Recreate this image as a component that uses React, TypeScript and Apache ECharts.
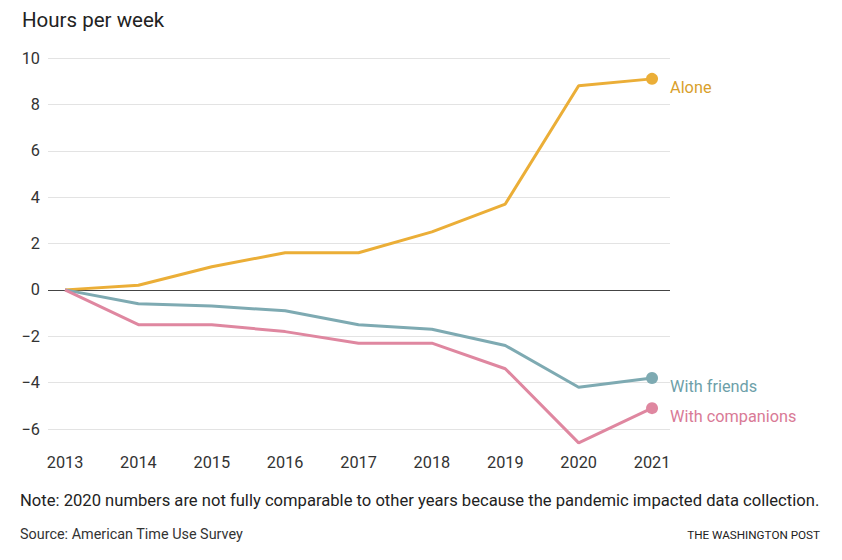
import React, { useEffect, useRef } from "react";
import * as echarts from "echarts";

const years = [2013, 2014, 2015, 2016, 2017, 2018, 2019, 2020, 2021];
const alone = [0, 0.2, 1.0, 1.6, 1.6, 2.5, 3.7, 8.8, 9.1];
const withFriends = [0, -0.6, -0.7, -0.9, -1.5, -1.7, -2.4, -4.2, -3.8];
const withCompanions = [0, -1.5, -1.5, -1.8, -2.3, -2.3, -3.4, -6.6, -5.1];

const FONT = "Roboto, 'Liberation Sans', sans-serif";

function makeSeries(name: string, values: number[], color: string, labelColor: string, withZero = false) {
  const data = values.map((v, i) => {
    const isLast = i === values.length - 1;
    return isLast
      ? { value: [years[i], v], symbol: "circle", symbolSize: 12 }
      : { value: [years[i], v], symbol: "none" };
  });
  const s: any = {
    name,
    type: "line",
    data,
    clip: false,
    showSymbol: true,
    itemStyle: { color },
    lineStyle: { color, width: 3 },
    endLabel: {
      show: true,
      formatter: name,
      color: labelColor,
      fontFamily: FONT,
      fontSize: 16.3,
      distance: 5,
      offset: [13, 8.5],
    },
    z: 3,
  };
  if (withZero) {
    s.markLine = {
      silent: true,
      symbol: "none",
      label: { show: false },
      lineStyle: { color: "#444", width: 1, type: "solid" },
      data: [{ yAxis: 0 }],
      z: 1,
    };
  }
  return s;
}

export default function App() {
  const ref = useRef<HTMLDivElement>(null);
  useEffect(() => {
    if (!ref.current) return;
    const chart = echarts.init(ref.current, undefined, { renderer: "svg" });
    const option: any = {
      animation: false,
      backgroundColor: "#ffffff",
      grid: { left: 48, right: 172, top: 58, bottom: 131, containLabel: false },
      xAxis: {
        type: "value",
        min: 2012.768,
        max: 2021.245,
        axisLine: { show: false },
        axisTick: { show: false },
        splitLine: { show: false },
        axisLabel: {
          customValues: years,
          formatter: (v: number) => String(v),
          color: "#333",
          fontFamily: FONT,
          fontSize: 16.3,
          margin: 25,
        },
      },
      yAxis: {
        type: "value",
        min: -6,
        max: 10,
        interval: 2,
        axisLine: { show: false },
        axisTick: { show: false },
        splitLine: { show: true, lineStyle: { color: "#e3e3e3", width: 1 } },
        axisLabel: {
          color: "#333",
          fontFamily: FONT,
          fontSize: 16.3,
          margin: 8,
          formatter: (v: number) => (v < 0 ? "\u2212" + Math.abs(v) : String(v)),
        },
      },
      series: [
        makeSeries("Alone", alone, "#ebae37", "#d99f2c", true),
        makeSeries("With friends", withFriends, "#7eaab2", "#6d9fa9"),
        makeSeries("With companions", withCompanions, "#df87a0", "#d97a96"),
      ],
      graphic: [
        {
          type: "text",
          left: 22,
          top: 9,
          style: { text: "Hours per week", fill: "#222", font: `20.5px ${FONT}` },
        },
        {
          type: "text",
          left: 20,
          top: 492,
          style: {
            text: "Note: 2020 numbers are not fully comparable to other years because the pandemic impacted data collection.",
            fill: "#222",
            font: `16.6px ${FONT}`,
          },
        },
        {
          type: "text",
          left: 20,
          top: 527,
          style: { text: "Source: American Time Use Survey", fill: "#333", font: `14.4px ${FONT}` },
        },
        {
          type: "text",
          right: 22,
          top: 529,
          style: { text: "THE WASHINGTON POST", fill: "#222", font: `11.7px ${FONT}` },
        },
      ],
    };
    chart.setOption(option);
    return () => chart.dispose();
  }, []);
  return (
    <div
      ref={ref}
      style={{ position: "fixed", left: 0, top: 0, width: 842, height: 560, background: "#fff" }}
    />
  );
}
